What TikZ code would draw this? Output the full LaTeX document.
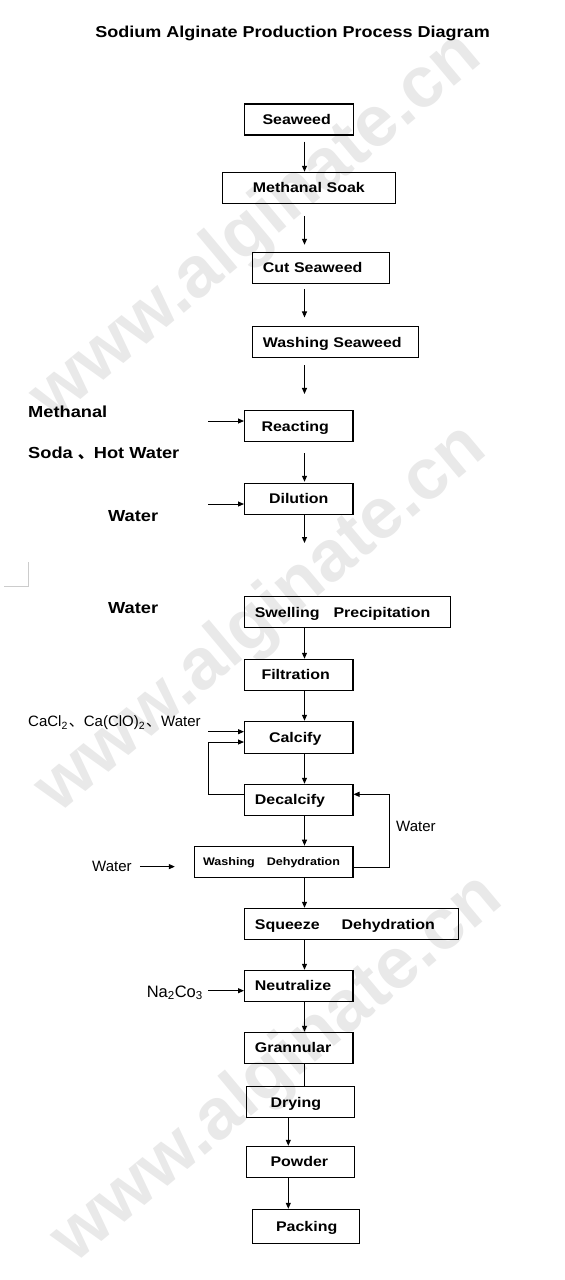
\documentclass[tikz,border=0pt]{standalone}
\usepackage{fontspec}
\setmainfont{Liberation Sans}[FakeStretch=1.14]
\newfontfamily\plainfont{Liberation Sans}
\newfontfamily\cjk{Noto Sans CJK SC}
\usetikzlibrary{arrows.meta}

\begin{document}
\begin{tikzpicture}[x=1pt,y=-1pt,
  box/.style 2 args={draw,line width=1.1pt,inner ysep=0pt,inner xsep=#1,
              text width=#2,align=left,minimum height=31pt,
              text height=10.5pt,text depth=0.5pt,anchor=west,
              font=\fontsize{14}{16}\selectfont\bfseries},
  lab/.style={inner sep=0pt,anchor=base west,font=\fontsize{16}{18}\selectfont\bfseries},
  note/.style={inner sep=0pt,anchor=base west,font=\plainfont\fontsize{15}{17}\selectfont},
  wmark/.style={inner sep=0pt,rotate=40,text=gray!17,
              font=\plainfont\fontsize{72}{72}\selectfont\bfseries},
  arr/.style={-{Triangle[length=6pt,width=5pt]},line width=1pt}]
\useasboundingbox (0,0) rectangle (565,1280);
\node[wmark] (wm1) at (257,228) {www.alginate.cn};
\node[wmark] (wm2) at (262,620) {www.alginate.cn};
\node[wmark] (wm3) at (278,1070) {www.alginate.cn};
\draw[gray!40,line width=0.6pt] (4,586.7) -- (28.3,586.7) -- (28.3,561.7);
\node[font=\fontsize{15.8}{18}\selectfont\bfseries,anchor=base] (title) at (292.6,37.3)
  {Sodium Alginate Production Process Diagram};
\node[box={18pt}{73pt}] (seaweed) at (244,119.5) {Seaweed};
\node[box={30pt}{112.3pt}] (soak) at (222.3,187.8) {\mbox{Methanal Soak}};
\node[box={10pt}{116.5pt}] (cut) at (252.3,267.8) {\mbox{Cut Seaweed}};
\node[box={10pt}{145.4pt}] (wash) at (252.3,342) {\mbox{Washing Seaweed}};
\node[box={17pt}{74.4pt}] (react) at (244,426) {Reacting};
\node[box={24.5pt}{59.4pt}] (dilute) at (244,498.8) {Dilution};
\node[box={10pt}{185.4pt}] (swell) at (244.3,612) {\mbox{Swelling\hspace{14pt}Precipitation}};
\node[box={17pt}{74.4pt}] (filter) at (244,674.8) {Filtration};
\node[box={24.5pt}{59.4pt},minimum height=32pt] (calcify) at (244,737.3) {Calcify};
\node[box={10.4pt}{87.6pt}] (decalc) at (244,799.8) {Decalcify};
\node[box={9pt}{140.9pt},font=\fontsize{11}{13}\selectfont\bfseries,text height=8.5pt]
  (washdeh) at (193.5,861.7) {\mbox{Washing\hspace{12pt}Dehydration}};
\node[box={10.4pt}{192.9pt},minimum height=31.4pt] (squeeze) at (244,924) {\mbox{Squeeze\hspace{22pt}Dehydration}};
\node[box={10.4pt}{87.6pt}] (neutral) at (244,985.8) {Neutralize};
\node[box={10.4pt}{87.6pt}] (gran) at (244,1047.8) {Grannular};
\node[box={24pt}{60.2pt}] (dry) at (246,1102) {Drying};
\node[box={24pt}{60.2pt}] (powder) at (246,1161.8) {Powder};
\node[box={24pt}{59.8pt},minimum height=34pt] (pack) at (251.5,1226.3) {Packing};
\node[lab] (methanal) at (28,417) {Methanal};
\node[lab] (soda) at (28,458) {Soda {\cjk 、}Hot Water};
\node[lab] (wdilute) at (108,521) {Water};
\node[lab] (wswell) at (108,613) {Water};
\node[note] (calcin) at (28,726.7)
  {CaCl\textsubscript{2}\kern1pt{\cjk 、}Ca(ClO)\textsubscript{2}\kern1pt{\cjk 、}Water};
\node[note] (wloop) at (396,831.7) {Water};
\node[note] (wwash) at (92,871.7) {Water};
\node[note,anchor=base east,font=\plainfont\fontsize{16.5}{18}\selectfont] (soda2) at (203,997.3)
  {Na\textsubscript{2}Co\textsubscript{3}};
\coordinate (ax) at (304.5,0);
\coordinate (bx) at (288.3,0);
\coordinate (dilend) at (304.5,543);
\coordinate (inreact) at (208,421);
\coordinate (indilute) at (208,504);
\coordinate (incalc) at (208,731.7);
\coordinate (inneutral) at (208,990.7);
\draw[arr,shorten <=6pt] (seaweed.south -| ax) -- (soak.north -| ax);
\draw[arr,shorten <=12pt,shorten >=7pt] (soak.south -| ax) -- (cut.north -| ax);
\draw[arr,shorten <=5pt,shorten >=8.5pt] (cut.south -| ax) -- (wash.north -| ax);
\draw[arr,shorten <=7pt,shorten >=16pt] (wash.south -| ax) -- (react.north -| ax);
\draw[arr,shorten <=11pt,shorten >=1pt] (react.south -| ax) -- (dilute.north -| ax);
\draw[arr] (dilute.south -| ax) -- (dilend);
\draw[arr] (inreact) -- (inreact -| react.west);
\draw[arr] (indilute) -- (indilute -| dilute.west);
\draw[arr] (swell.south -| ax) -- (filter.north -| ax);
\draw[arr] (filter.south -| ax) -- (calcify.north -| ax);
\draw[arr] (incalc) -- (incalc -| calcify.west);
\draw[arr] (calcify.south -| ax) -- (decalc.north -| ax);
\draw[arr] ([yshift=5.5pt]decalc.west) -- ++(-36,0) |- ([yshift=-4.7pt]calcify.west);
\draw[arr] (decalc.south -| ax) -- (washdeh.north -| ax);
\draw[arr] ([yshift=-5.3pt]washdeh.east) -- ++(36,0) |- ([yshift=5.5pt]decalc.east);
\draw[arr,shorten <=8pt] (wwash.east) -- ++(43,0);
\draw[arr] (washdeh.south -| ax) -- (squeeze.north -| ax);
\draw[arr] (squeeze.south -| ax) -- (neutral.north -| ax);
\draw[arr] (inneutral) -- (inneutral -| neutral.west);
\draw[arr] (neutral.south -| ax) -- (gran.north -| ax);
\draw[line width=1pt] (gran.south -| ax) -- (dry.north -| ax);
\draw[arr] (dry.south -| bx) -- (powder.north -| bx);
\draw[arr] (powder.south -| bx) -- (pack.north -| bx);
\end{tikzpicture}
\end{document}
